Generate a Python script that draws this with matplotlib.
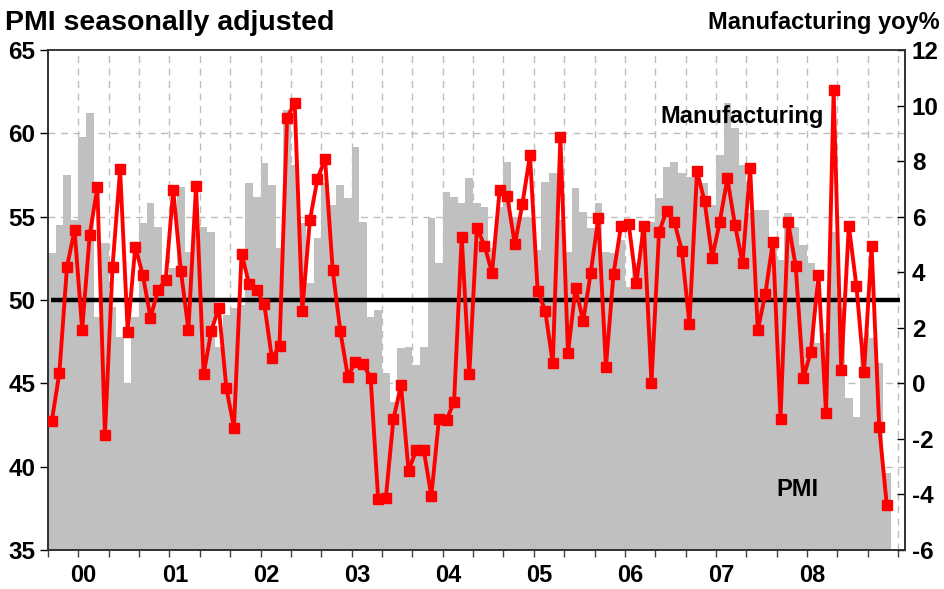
import matplotlib
matplotlib.use("Agg")
import matplotlib.pyplot as plt
import numpy as np

plt.rcParams['font.family'] = ['Liberation Sans', 'DejaVu Sans']
plt.rcParams['font.weight'] = 'bold'

# PMI (left axis), monthly from 2000
pmi = [52.8, 54.5, 57.5, 54.8, 59.8, 61.2, 49.0, 53.4, 49.6, 47.8, 45.0, 49.0,
       54.6, 55.8, 54.4, 51.0, 51.9, 56.8, 52.9, 54.0, 54.4, 54.1, 47.2, 49.1,
       49.5, 49.7, 57.0, 56.2, 58.2, 56.9, 53.1, 61.4, 58.1, 54.6, 51.0, 53.7,
       57.0, 55.7, 56.9, 56.1, 59.2, 54.7, 49.0, 49.4, 45.6, 43.9, 47.1, 47.2,
       46.1, 47.2, 54.9, 52.2, 56.5, 56.2, 55.8, 57.3, 55.8, 55.6, 53.1, 55.6,
       58.3, 55.0, 55.0, 54.9, 53.0, 57.1, 57.6, 54.8, 52.9, 56.7, 55.3, 54.3,
       55.8, 52.9, 52.8, 53.6, 50.8, 52.2, 54.6, 54.7, 56.1, 58.0, 58.3, 57.6,
       57.4, 57.4, 57.0, 55.7, 58.7, 61.8, 60.3, 58.1, 55.2, 55.4, 55.4, 53.5,
       52.4, 55.2, 54.4, 53.3, 52.2, 47.4, 48.0, 54.1, 49.5, 44.1, 43.0, 47.7,
       47.7, 46.2, 39.6]

# Manufacturing yoy% (right axis)
manuf = [-1.36, 0.38, 4.19, 5.52, 1.93, 5.35, 7.06, -1.85, 4.19, 7.70, 1.86, 4.92,
         3.89, 2.36, 3.36, 3.72, 6.95, 4.06, 1.93, 7.10, 0.32, 1.88, 2.72, -0.18,
         -1.60, 4.67, 3.56, 3.36, 2.84, 0.90, 1.34, 9.56, 10.10, 2.62, 5.87, 7.36,
         8.08, 4.09, 1.90, 0.24, 0.78, 0.70, 0.20, -4.18, -4.14, -1.30, -0.07, -3.16,
         -2.40, -2.40, -4.06, -1.30, -1.32, -0.66, 5.28, 0.32, 5.60, 4.96, 3.98, 6.96,
         6.74, 5.00, 6.46, 8.21, 3.34, 2.62, 0.72, 8.88, 1.08, 3.44, 2.24, 3.98,
         5.95, 0.59, 3.94, 5.68, 5.74, 3.60, 5.68, 0.02, 5.44, 6.22, 5.82, 4.78,
         2.14, 7.64, 6.55, 4.52, 5.82, 7.38, 5.70, 4.32, 7.76, 1.91, 3.22, 5.10,
         -1.27, 5.82, 4.22, 0.20, 1.13, 3.90, -1.08, 10.55, 0.48, 5.68, 3.50, 0.40,
         4.93, -1.56, -4.39]

year_labels = ['00', '01', '02', '03', '04', '05', '06', '07', '08']
left_ticks = [35, 40, 45, 50, 55, 60, 65]
right_ticks = [-6, -4, -2, 0, 2, 4, 6, 8, 10, 12]

W, H = 945, 589
fig = plt.figure(figsize=(W / 100, H / 100), dpi=100)
ax = fig.add_axes([48 / W, 1 - 550 / H, (905 - 48) / W, 500 / H])
ax2 = ax.twinx()

x = np.arange(len(pmi))
grid_col = '#bdbdbd'

# gridlines
vgrid = np.arange(-0.5 + 4, 112, 4)
for gx in vgrid:
    ax.axvline(gx, color=grid_col, lw=1.0, ls=(0, (5, 4)), zorder=0)
for gy in [40, 45, 55, 60]:
    ax.axhline(gy, color=grid_col, lw=1.0, ls=(0, (5, 4)), zorder=0)

ax.bar(x, pmi, width=1.0, color='#c0c0c0', edgecolor='none', zorder=1)
ax.hlines(50, -0.1, 111.7, color='black', lw=3.2, zorder=3)

ax.set_xlim(-0.5, 112.4)
ax.set_ylim(35, 65)
ax.set_yticks(left_ticks)
ax.set_yticklabels([str(t) for t in left_ticks])

ax.set_xticks(np.arange(-0.5, 112, 4))
ax.set_xticklabels([])
ax.set_xticks(np.arange(4.2, 4.2 + 12 * len(year_labels), 12)[:len(year_labels)], minor=True)
ax.set_xticklabels(year_labels, minor=True)
ax.tick_params(axis='x', which='major', direction='out', length=5, width=1, color='#404040')
ax.tick_params(axis='x', which='minor', length=0, pad=10, labelsize=17)
ax.tick_params(axis='y', direction='out', length=6, width=1, labelsize=17.5, pad=3)

ax2.plot(x, manuf, color='#ff0000', lw=2.8, marker='s', markersize=7,
         markerfacecolor='#ff0000', markeredgecolor='#ff0000', zorder=5)
ax2.set_ylim(-6, 12)
ax2.set_yticks(right_ticks)
ax2.set_yticklabels([str(t) for t in right_ticks])
ax2.tick_params(axis='y', direction='in', length=6, width=1, labelsize=17.5, pad=5)

for a in (ax, ax2):
    for s in a.spines.values():
        s.set_color('#303030')
        s.set_linewidth(1.2)
ax.spines['top'].set_color('#707070')

fig.text(5 / W, 1 - 23 / H, 'PMI seasonally adjusted', fontsize=20.5, fontweight='bold',
         ha='left', va='center')
fig.text(940 / W, 1 - 23 / H, 'Manufacturing yoy%', fontsize=17, fontweight='bold',
         ha='right', va='center')
fig.text(660 / W, 1 - 117 / H, 'Manufacturing', fontsize=17, fontweight='bold',
         ha='left', va='center')
fig.text(776 / W, 1 - 490 / H, 'PMI', fontsize=17, fontweight='bold',
         ha='left', va='center')

fig.savefig('out.png', dpi=100)
